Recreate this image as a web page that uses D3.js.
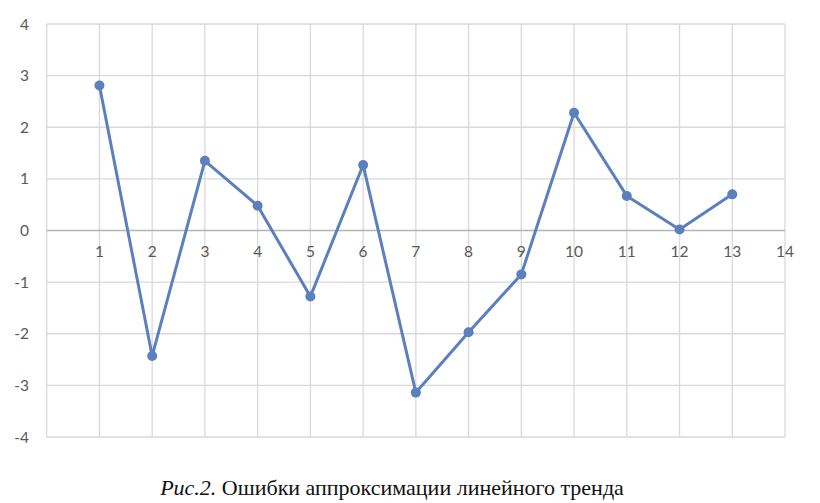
<!DOCTYPE html>
<html><head><meta charset="utf-8">
<script src="https://cdn.jsdelivr.net/npm/d3@7"></script>
<style>body{margin:0;background:#fff}svg{display:block}</style>
</head><body>
<svg id="c" width="820" height="503"></svg>
<script>
const periods = [1,2,3,4,5,6,7,8,9,10,11,12,13];
const errors = [2.81,-2.43,1.35,0.48,-1.28,1.27,-3.14,-1.97,-0.85,2.28,0.67,0.02,0.70];
const xTicks = [1,2,3,4,5,6,7,8,9,10,11,12,13,14];
const yTicks = [-4,-3,-2,-1,0,1,2,3,4];
const captionItalic = "Рис.2.";
const captionText = " Ошибки аппроксимации линейного тренда";

const svg = d3.select("#c");
const L=46.7, R=785, T=24, B=437;
const x = d3.scaleLinear().domain([0,14]).range([L,R]);
const y = d3.scaleLinear().domain([-4,4]).range([B,T]);
const grid="#d9d9d9", txt="#595959", col="#5b80bd";
const font="Lato, 'Open Sans', sans-serif";

// vertical gridlines
svg.append("g").selectAll("line").data(d3.range(0,15)).join("line")
 .attr("x1",d=>x(d)).attr("x2",d=>x(d)).attr("y1",T).attr("y2",B)
 .attr("stroke",grid).attr("stroke-width",1.3);
// horizontal gridlines
svg.append("g").selectAll("line").data(yTicks).join("line")
 .attr("x1",L).attr("x2",R).attr("y1",d=>y(d)).attr("y2",d=>y(d))
 .attr("stroke",d=>d===0?"#b5b5b5":grid).attr("stroke-width",d=>d===0?1.6:1.3);

// y labels
svg.append("g").selectAll("text").data(yTicks).join("text")
 .attr("x",29).attr("y",d=>y(d)).attr("dy","0.36em").attr("text-anchor","end")
 .attr("font-family",font).attr("font-size",15.5).attr("fill",txt).text(d=>d);
// x labels
svg.append("g").selectAll("text").data(xTicks).join("text")
 .attr("x",d=>x(d)).attr("y",y(0)+26).attr("text-anchor","middle")
 .attr("font-family",font).attr("font-size",15.5).attr("fill",txt).text(d=>d);

const data = periods.map((p,i)=>({p,v:errors[i]}));
svg.append("path").datum(data)
 .attr("d",d3.line().x(d=>x(d.p)).y(d=>y(d.v)))
 .attr("fill","none").attr("stroke",col).attr("stroke-width",3).attr("stroke-linejoin","round");
svg.append("g").selectAll("circle").data(data).join("circle")
 .attr("cx",d=>x(d.p)).attr("cy",d=>y(d.v)).attr("r",5).attr("fill",col);

const cap = svg.append("text").attr("x",392).attr("y",495).attr("text-anchor","middle")
 .attr("font-family","'Liberation Serif','Times New Roman',serif").attr("font-size",22).attr("fill","#111");
cap.append("tspan").attr("font-style","italic").text(captionItalic);
cap.append("tspan").text(captionText);
</script>
</body></html>
